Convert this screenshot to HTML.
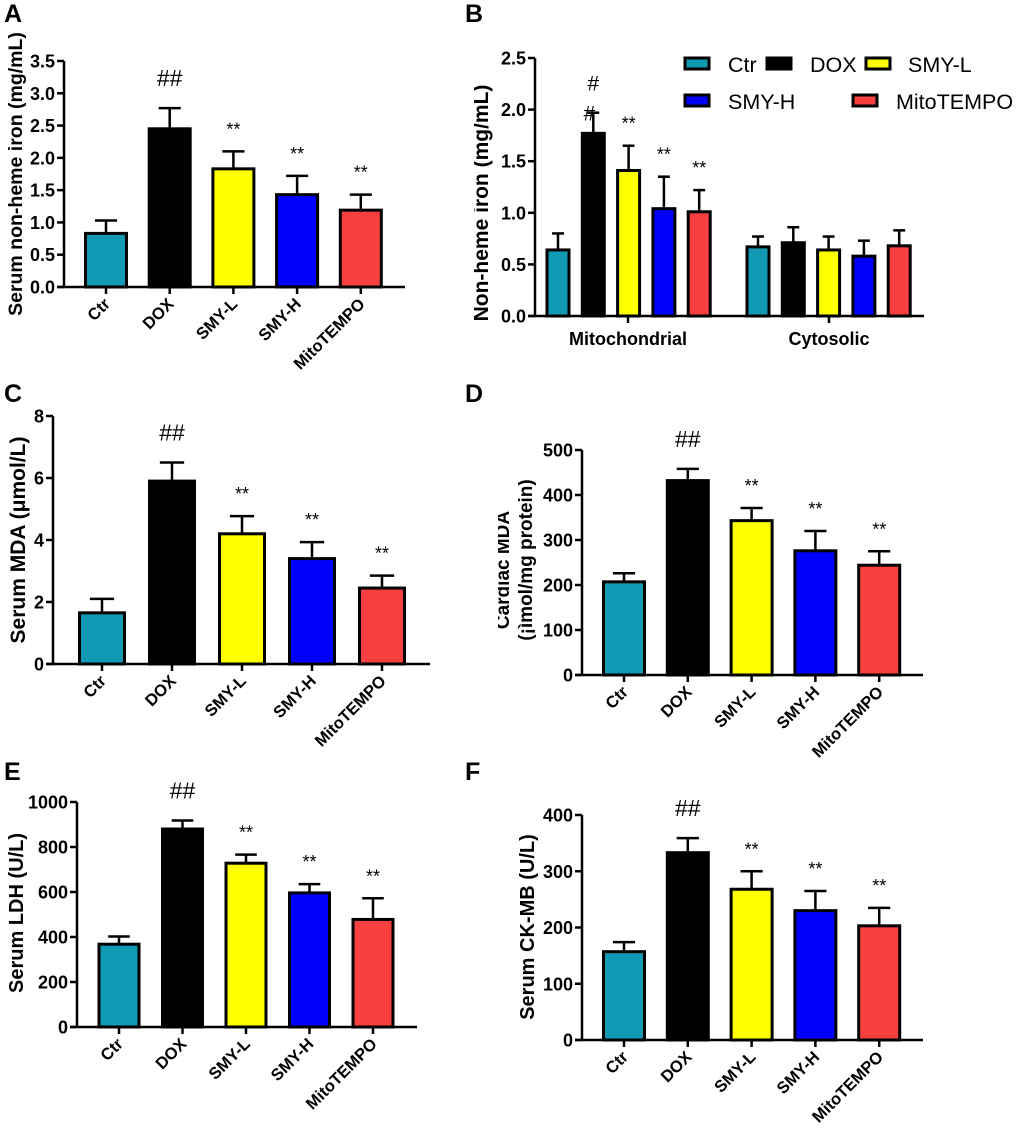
<!DOCTYPE html>
<html><head><meta charset="utf-8"><style>
html,body{margin:0;padding:0;background:#fff;}
svg{display:block;font-family:"Liberation Sans",Arial,sans-serif;}
</style></head><body>
<svg id="fig" width="1020" height="1134" viewBox="0 0 1020 1134" xmlns="http://www.w3.org/2000/svg">
<defs><clipPath id="clipB"><rect x="474" y="0" width="60" height="380"/></clipPath>
<clipPath id="clipD"><rect x="498" y="380" width="60" height="380"/></clipPath></defs>
</svg>
<script>
const groups = ["Ctr","DOX","SMY-L","SMY-H","MitoTEMPO"];
const colors = ["#129ab4","#000000","#ffff00","#0000ff","#f94040"];
const aVals = [0.83,2.45,1.83,1.43,1.19];
const aErr  = [1.03,2.77,2.10,1.72,1.43];
const aTicks = ["0.0","0.5","1.0","1.5","2.0","2.5","3.0","3.5"];
const bMitoVals = [0.64,1.77,1.41,1.04,1.01];
const bMitoErr  = [0.80,1.97,1.65,1.35,1.22];
const bCytoVals = [0.67,0.71,0.64,0.58,0.68];
const bCytoErr  = [0.77,0.86,0.77,0.73,0.83];
const bTicks = ["0.0","0.5","1.0","1.5","2.0","2.5"];
const cVals = [1.65,5.9,4.2,3.4,2.45];
const cErr  = [2.1,6.5,4.77,3.93,2.85];
const cTicks = ["0","2","4","6","8"];
const dVals = [207,432,343,276,244];
const dErr  = [226,458,371,320,275];
const dTicks = ["0","100","200","300","400","500"];
const eVals = [368,880,728,596,478];
const eErr  = [402,918,766,635,572];
const eTicks = ["0","200","400","600","800","1000"];
const fVals = [157,333,268,230,203];
const fErr  = [174,359,300,265,235];
const fTicks = ["0","100","200","300","400"];
const marks = ["","##","**","**","**"];

const svg = document.getElementById('fig');
const NS = "http://www.w3.org/2000/svg";
function mk(tag, attrs, parent){ const e=document.createElementNS(NS,tag); for(const k in attrs) e.setAttribute(k,attrs[k]); (parent||svg).appendChild(e); return e; }
function txt(s, attrs, parent){ const e=mk('text',attrs,parent); e.textContent=s; return e; }

function panel(cfg){
  const g = mk('g',{});
  
  
  const max = parseFloat(cfg.ticks[cfg.ticks.length-1]);
  const y = v => cfg.y0 - (v/max)*(cfg.y0-cfg.yTop);
  const ax = mk('line',{x1:cfg.ax,y1:cfg.yTop,x2:cfg.ax,y2:cfg.y0,stroke:'#000','stroke-width':2.5},g);
  
  
  cfg.ticks.forEach(t=>{
    const v=parseFloat(t);
    mk('line',{x1:cfg.ax-7,y1:y(v),x2:cfg.ax,y2:y(v),stroke:'#000','stroke-width':2.5},g);
    const tl = txt(t,{x:cfg.ax-9,y:y(v)+6.5,'text-anchor':'end','font-size':18,'font-weight':'bold'},g);
    
    
  });
  const xa = mk('line',{x1:cfg.ax-7,y1:cfg.y0,x2:cfg.xEnd,y2:cfg.y0,stroke:'#000','stroke-width':2.5},g);
  
  
  cfg.series.forEach(s=>{
    s.vals.forEach((v,i)=>{
      const cx = s.x0 + i*s.step, w=s.w;
      const eb = mk('line',{x1:cx,y1:y(v),x2:cx,y2:y(s.err[i]),stroke:'#000','stroke-width':2.5},g);
      
      
      mk('line',{x1:cx-w*0.27,y1:y(s.err[i]),x2:cx+w*0.27,y2:y(s.err[i]),stroke:'#000','stroke-width':2.5},g);
      const r = mk('rect',{x:cx-w/2,y:y(v),width:w,height:cfg.y0-y(v),fill:colors[i],stroke:'#000','stroke-width':3},g);
      
      
      if(s.marks){
        const m=s.marks[i];
        if(m==="##" && s.stackHash){
          txt('#',{x:cx,y:y(s.err[i])-22,'text-anchor':'middle','font-size':21},g);
          txt('#',{x:cx-4,y:y(s.err[i])+8,'text-anchor':'middle','font-size':21},g);
        } else if(m){
          const big = m==="##";
          const mt = txt(m,{x:cx,y:y(s.err[i])-(big?22:16),'text-anchor':'middle','font-size':big?23:18},g);
          
          
        }
      }
      if(s.rotLabels){
        mk('line',{x1:cx,y1:cfg.y0,x2:cx,y2:cfg.y0+7,stroke:'#000','stroke-width':2.5},g);
        const lx=cx+5, ly=cfg.y0+18;
        const lt = txt(groups[i],{x:lx,y:ly,'text-anchor':'end','font-size':16.5,'font-weight':'bold',transform:`rotate(-45 ${lx} ${ly})`},g);
        
        
      }
    });
  });
  const lt = txt(cfg.letter,{x:cfg.lx,y:cfg.ly,'font-size':25,'font-weight':'bold'},g);
  
  
  (cfg.titles||[]).forEach(tt=>{
    const holder = tt.clip ? mk('g',{'clip-path':tt.clip},g) : g;
    const e = txt(tt.t,{x:tt.x,y:tt.y,'text-anchor':'middle','font-size':tt.fs||19,'font-weight':'bold',transform:`rotate(-90 ${tt.x} ${tt.y})`},holder);
    
    
  });
  return {g,y};
}
function simple(v,e){ return [{vals:v,err:e,marks:marks,rotLabels:true}]; }

let s;
s = simple(aVals,aErr); s[0].x0=106; s[0].step=63.7; s[0].w=41;
panel({name:'panel-a',letter:'A',lx:4,ly:22,ax:64,yTop:61,y0:287,xEnd:405,ticks:aTicks,series:s,
  titles:[{t:'Serum non-heme iron (mg/mL)',x:22,y:174,fs:19.5}]});

const pb = panel({name:'panel-b',letter:'B',lx:465,ly:22,ax:535,yTop:58,y0:316,xEnd:924,ticks:bTicks,
  series:[{vals:bMitoVals,err:bMitoErr,marks:marks,stackHash:true,x0:558,step:35.3,w:22},
          {vals:bCytoVals,err:bCytoErr,x0:758,step:35.3,w:22}],
  titles:[{t:'Non-heme iron (mg/mL)',x:488,y:203,clip:'url(#clipB)',fs:21}]});
[[628,'Mitochondrial'],[829,'Cytosolic']].forEach(([x,t])=>{
  mk('line',{x1:x,y1:316,x2:x,y2:323,stroke:'#000','stroke-width':2.5},pb.g);
  const e = txt(t,{x:x,y:345,'text-anchor':'middle','font-size':18,'font-weight':'bold'},pb.g);
  
  
});
const legend = mk('g',{});


[[685,64,0,728],[767,64,1,810],[866,64,2,908],[685,101,3,728],[853,101,4,896]].forEach(([sx,sy,i,tx])=>{
  const it = mk('g',{},legend);
  
  
  mk('rect',{x:sx,y:sy-6,width:24,height:11,fill:colors[i],stroke:'#000','stroke-width':3},it);
  txt(groups[i],{x:tx,y:sy+8,'font-size':21.5},it);
});

s = simple(cVals,cErr); s[0].x0=102; s[0].step=70; s[0].w=45;
panel({name:'panel-c',letter:'C',lx:4,ly:402,ax:53,yTop:416,y0:664,xEnd:430,ticks:cTicks,series:s,
  titles:[{t:'Serum MDA (μmol/L)',x:25,y:540,fs:21}]});

s = simple(dVals,dErr); s[0].x0=624; s[0].step=63.8; s[0].w=41;
panel({name:'panel-d',letter:'D',lx:465,ly:402,ax:582,yTop:450,y0:675,xEnd:923,ticks:dTicks,series:s,
  titles:[{t:'Cardiac MDA',x:509,y:570,clip:'url(#clipD)'},{t:'(¡ìmol/mg protein)',x:532,y:560}]});

s = simple(eVals,eErr); s[0].x0=119; s[0].step=63.5; s[0].w=40;
panel({name:'panel-e',letter:'E',lx:4,ly:780,ax:77,yTop:802,y0:1027,xEnd:417,ticks:eTicks,series:s,
  titles:[{t:'Serum LDH (U/L)',x:23,y:913,fs:20}]});

s = simple(fVals,fErr); s[0].x0=624; s[0].step=63.8; s[0].w=41;
panel({name:'panel-f',letter:'F',lx:465,ly:780,ax:582,yTop:815,y0:1040,xEnd:923,ticks:fTicks,series:s,
  titles:[{t:'Serum CK-MB (U/L)',x:534,y:927,fs:20}]});
</script>
</body></html>
